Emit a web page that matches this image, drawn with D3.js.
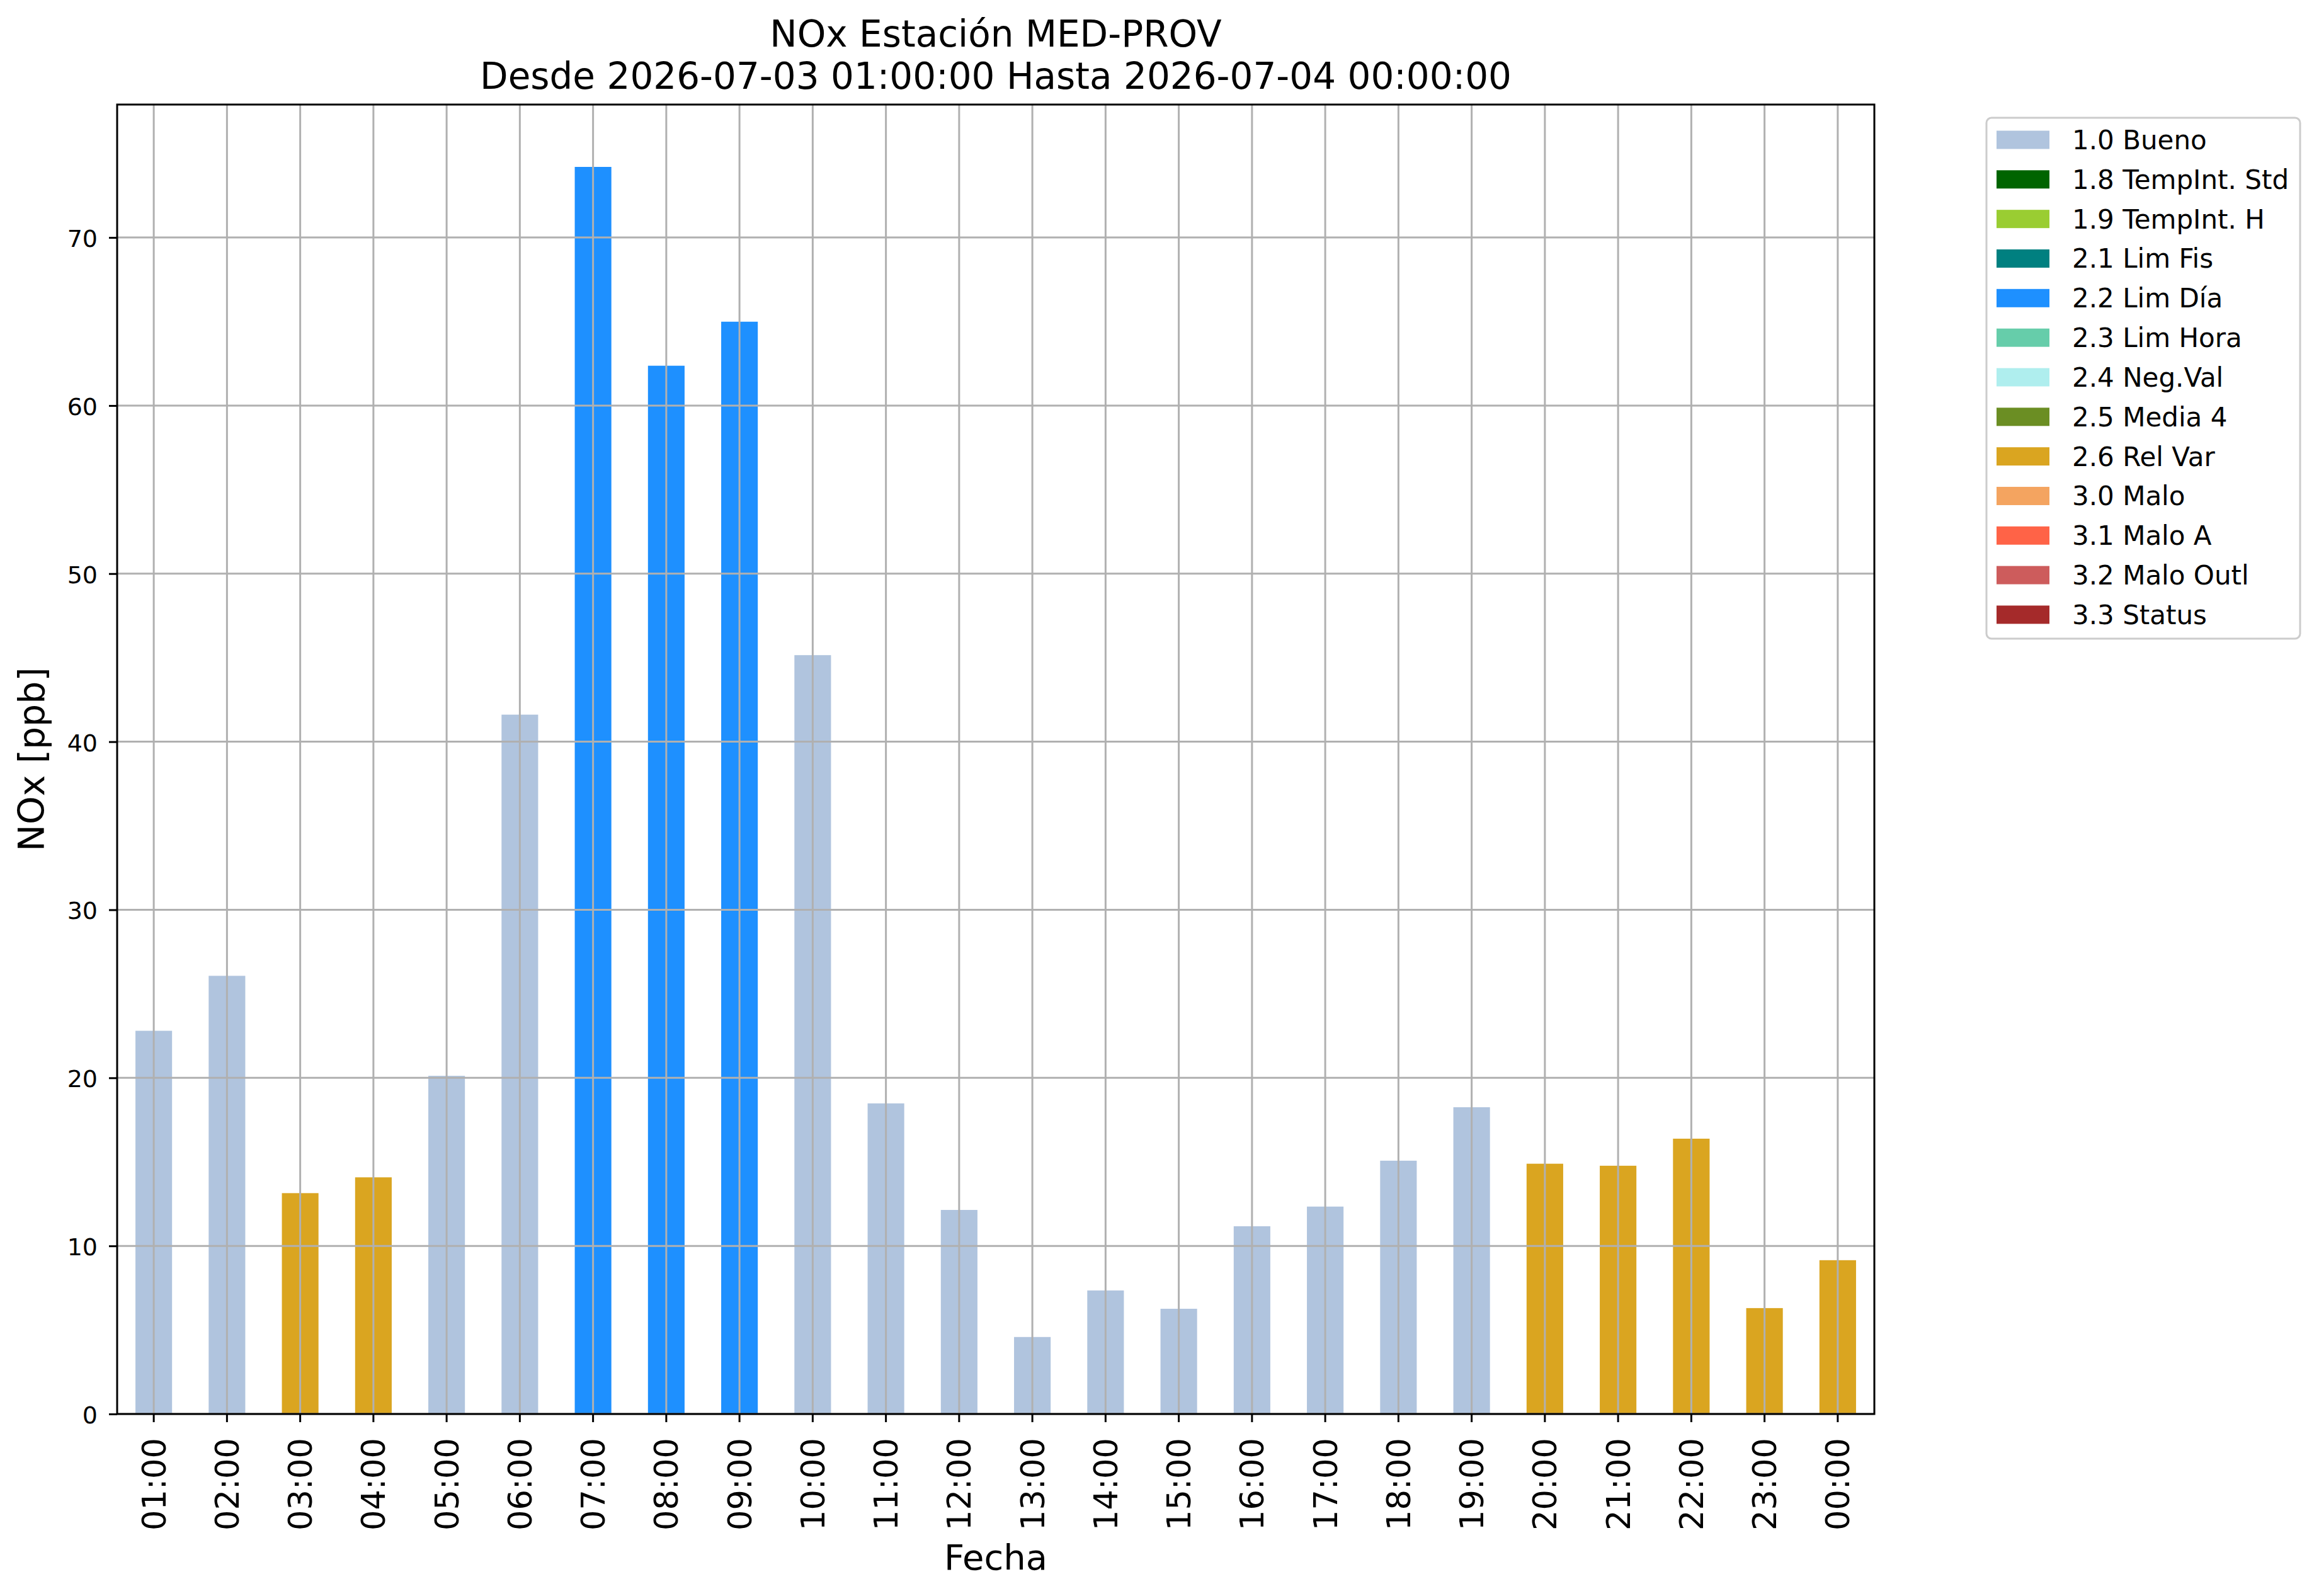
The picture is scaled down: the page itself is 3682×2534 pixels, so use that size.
<!DOCTYPE html>
<html>
<head>
<meta charset="utf-8">
<script src="https://cdn.jsdelivr.net/npm/d3@7"></script>
<style>
  body { margin: 0; background: #ffffff; }
  text { font-family: "DejaVu Sans", sans-serif; fill: #000000; }
</style>
</head>
<body>
<svg id="chart" width="3682" height="2534"></svg>
<script>
// Chart data
const hours = ["01:00", "02:00", "03:00", "04:00", "05:00", "06:00", "07:00", "08:00",
  "09:00", "10:00", "11:00", "12:00", "13:00", "14:00", "15:00", "16:00",
  "17:00", "18:00", "19:00", "20:00", "21:00", "22:00", "23:00", "00:00"];
const noxValues = [22.8, 26.07, 13.14, 14.08, 20.12, 41.61, 74.2, 62.37,
  64.99, 45.15, 18.48, 12.14, 4.58, 7.35, 6.26, 11.17,
  12.34, 15.07, 18.25, 14.89, 14.77, 16.38, 6.3, 9.15];
const flags = ["1.0", "1.0", "2.6", "2.6", "1.0", "1.0", "2.2", "2.2",
  "2.2", "1.0", "1.0", "1.0", "1.0", "1.0", "1.0", "1.0",
  "1.0", "1.0", "1.0", "2.6", "2.6", "2.6", "2.6", "2.6"];
const yTicks = [0, 10, 20, 30, 40, 50, 60, 70];

// Quality codes (legend)
const flagCodes = ["1.0", "1.8", "1.9", "2.1", "2.2", "2.3", "2.4", "2.5", "2.6", "3.0", "3.1", "3.2", "3.3"];
const flagNames = ["Bueno", "TempInt. Std", "TempInt. H", "Lim Fis", "Lim Día", "Lim Hora",
  "Neg.Val", "Media 4", "Rel Var", "Malo", "Malo A", "Malo Outl", "Status"];
const flagColors = ["#b0c4de", "#006400", "#9acd32", "#008080", "#1e90ff", "#66cdaa",
  "#afeeee", "#6b8e23", "#daa520", "#f4a460", "#ff6347", "#cd5c5c", "#a52a2a"];

const titleLines = ["NOx Estación MED-PROV", "Desde 2026-07-03 01:00:00 Hasta 2026-07-04 00:00:00"];

// Layout
const plot = { left: 186, right: 2976, top: 166, bottom: 2245 };
const svg = d3.select("#chart");

const x = d3.scaleBand()
  .domain(hours)
  .range([plot.left, plot.right])
  .paddingInner(0.5)
  .paddingOuter(0.25);

const y = d3.scaleLinear()
  .domain([0, d3.max(noxValues) * 1.05])
  .range([plot.bottom, plot.top]);

const color = d3.scaleOrdinal().domain(flagCodes).range(flagColors);

const rows = hours.map((h, i) => ({ hour: h, value: noxValues[i], flag: flags[i] }));

// Bars
svg.append("g")
  .selectAll("rect")
  .data(rows)
  .join("rect")
  .attr("x", d => x(d.hour))
  .attr("y", d => y(d.value))
  .attr("width", x.bandwidth())
  .attr("height", d => y(0) - y(d.value))
  .attr("fill", d => color(d.flag));

// Grid (drawn above the bars)
const grid = svg.append("g").attr("stroke", "#b0b0b0").attr("stroke-width", 3);
grid.selectAll(".gx")
  .data(hours)
  .join("line")
  .attr("x1", d => x(d) + x.bandwidth() / 2)
  .attr("x2", d => x(d) + x.bandwidth() / 2)
  .attr("y1", plot.top)
  .attr("y2", plot.bottom);
grid.selectAll(".gy")
  .data(yTicks)
  .join("line")
  .attr("x1", plot.left)
  .attr("x2", plot.right)
  .attr("y1", d => y(d))
  .attr("y2", d => y(d));

// Axes
const xAxis = svg.append("g")
  .attr("transform", `translate(0,${plot.bottom})`)
  .call(d3.axisBottom(x).tickSizeOuter(0).tickSizeInner(13).tickPadding(25));
xAxis.select(".domain").remove();
xAxis.selectAll(".tick line").attr("stroke", "#000").attr("stroke-width", 3);
xAxis.selectAll(".tick text")
  .attr("font-size", 51)
  .attr("transform", "rotate(-90)")
  .attr("text-anchor", "end")
  .attr("x", -38)
  .attr("y", 0)
  .attr("dy", "0.36em");

const yAxis = svg.append("g")
  .attr("transform", `translate(${plot.left},0)`)
  .call(d3.axisLeft(y).tickValues(yTicks).tickSizeOuter(0).tickSizeInner(13).tickPadding(18));
yAxis.select(".domain").remove();
yAxis.selectAll(".tick line").attr("stroke", "#000").attr("stroke-width", 3);
yAxis.selectAll(".tick text").attr("font-size", 38).attr("dy", "0.38em");

// Frame
svg.append("rect")
  .attr("x", plot.left)
  .attr("y", plot.top)
  .attr("width", plot.right - plot.left)
  .attr("height", plot.bottom - plot.top)
  .attr("fill", "none")
  .attr("stroke", "#000")
  .attr("stroke-width", 3);

// Titles and labels
svg.append("g")
  .selectAll("text")
  .data(titleLines)
  .join("text")
  .attr("x", (plot.left + plot.right) / 2)
  .attr("y", (d, i) => 74 + i * 67)
  .attr("text-anchor", "middle")
  .attr("font-size", 58)
  .text(d => d);

svg.append("text")
  .attr("x", (plot.left + plot.right) / 2)
  .attr("y", 2492)
  .attr("text-anchor", "middle")
  .attr("font-size", 56)
  .text("Fecha");

svg.append("text")
  .attr("transform", `translate(70,${(plot.top + plot.bottom) / 2}) rotate(-90)`)
  .attr("text-anchor", "middle")
  .attr("font-size", 57)
  .text("NOx [ppb]");

// Legend
const legend = svg.append("g");
legend.append("rect")
  .attr("x", 3154)
  .attr("y", 187)
  .attr("width", 498)
  .attr("height", 827)
  .attr("rx", 8)
  .attr("fill", "#ffffff")
  .attr("stroke", "#cccccc")
  .attr("stroke-width", 3);

const items = legend.selectAll(".item")
  .data(flagCodes)
  .join("g")
  .attr("transform", (d, i) => `translate(3170,${222 + i * 62.83})`);
items.append("rect")
  .attr("x", 0)
  .attr("y", -14.5)
  .attr("width", 84)
  .attr("height", 29)
  .attr("fill", d => color(d));
items.append("text")
  .attr("x", 120)
  .attr("y", 15)
  .attr("font-size", 42)
  .text((d, i) => `${d} ${flagNames[i]}`);
</script>
</body>
</html>
